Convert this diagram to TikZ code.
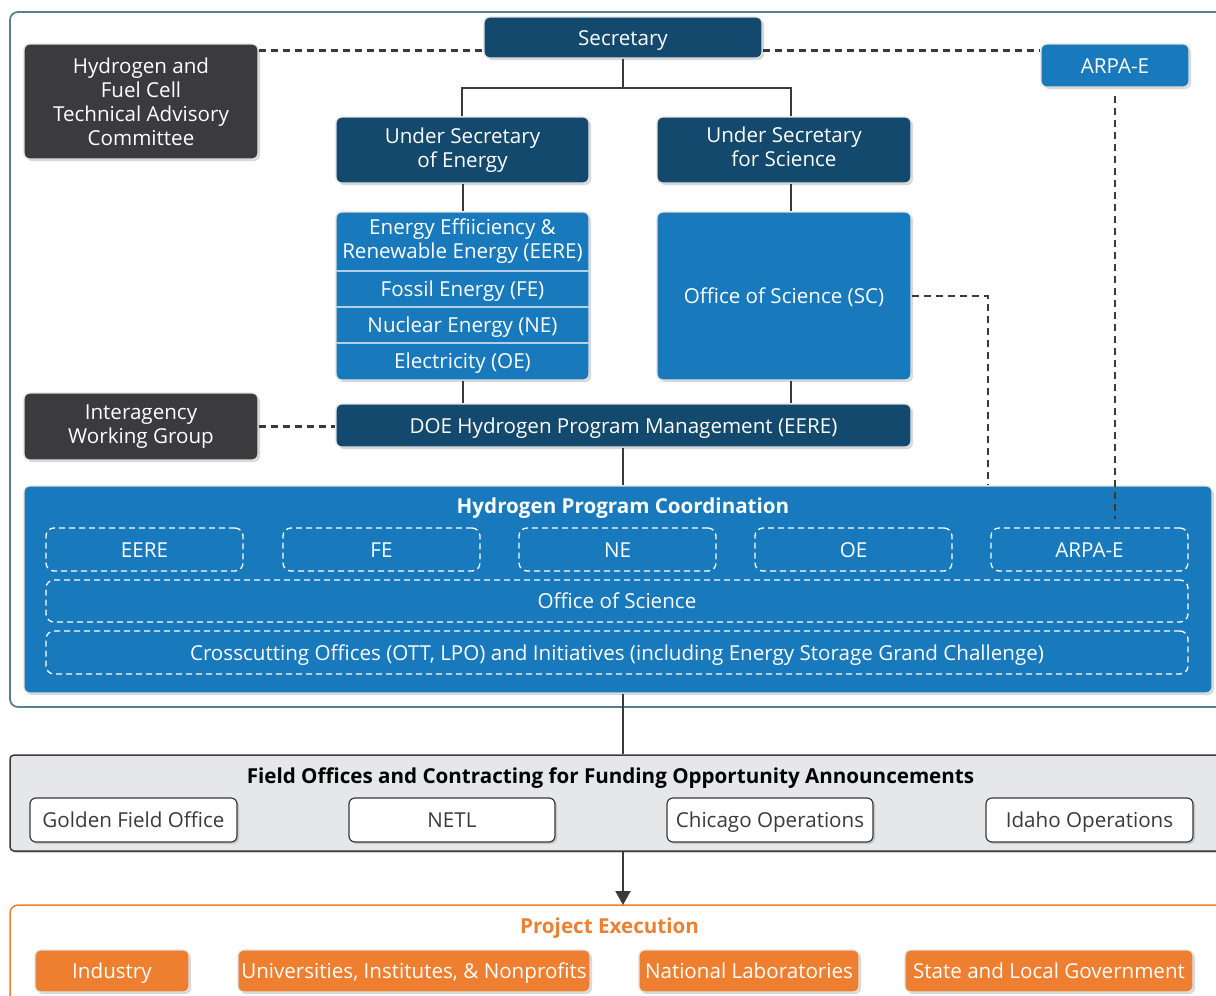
\documentclass[tikz,border=0pt]{standalone}
\usepackage{fontspec}
\setmainfont{Open Sans}
\usetikzlibrary{calc,shadows}
\usetikzlibrary{arrows.meta}
\definecolor{navy}{HTML}{12496D}
\definecolor{midblue}{HTML}{1879BC}
\definecolor{charcoal}{HTML}{3B3B3D}
\definecolor{tangerine}{HTML}{EE7F31}
\definecolor{ink}{HTML}{3A3A3A}
\definecolor{frameblue}{HTML}{5A7E97}
\definecolor{fieldgrey}{HTML}{E6E7E8}
\tikzset{
  card/.style={rounded corners=6pt, draw=black!12, line width=1.2pt, inner sep=0pt,
    align=center, text=white,
    drop shadow={shadow xshift=2pt, shadow yshift=-2pt, opacity=0.3}},
  navycard/.style={card, fill=navy},
  bluecard/.style={card, fill=midblue},
  greycard/.style={card, fill=charcoal},
  orangecard/.style={card, fill=tangerine},
  whitecard/.style={card, fill=white, draw=ink, text=ink},
  dashcard/.style={rounded corners=8pt, draw=white, dash pattern=on 6pt off 4pt,
    line width=1.3pt, inner sep=0pt, text=white},
  oneline/.style={text height=17.5pt, text depth=2pt},
  link/.style={draw=ink, line width=2pt},
  dashlink/.style={draw=ink, line width=2.2pt, dash pattern=on 7pt off 5pt},
}

\begin{document}
\begin{tikzpicture}[x=1pt, y=-1pt, font=\fontsize{20.6}{24}\selectfont]
    \useasboundingbox (0,0) rectangle (1216,996);
    % outer frames
    \draw[frameblue, line width=1.8pt, rounded corners=8pt] (10,12) rectangle (1240,707);
    \node[card, fill=fieldgrey, draw=ink, line width=1.5pt, rounded corners=4pt,
      minimum width=1230, minimum height=96] (field) at (625,803) {};
    \draw[tangerine, line width=1.5pt, rounded corners=8pt] (10,905) rectangle (1240,1020);
    \coordinate (exec) at (623,905);

    % top of the chart
    \node[navycard, oneline, minimum width=278, minimum height=41] (sec) at (623,37.5) {Secretary};
    \node[greycard, minimum width=234, minimum height=115] (hfc) at (141,101.5)
      {Hydrogen and\\Fuel Cell\\Technical Advisory\\Committee};
    \node[bluecard, oneline, minimum width=148, minimum height=43] (arpa) at (1115,65.5) {ARPA-E};
    \node[navycard, minimum width=253, minimum height=66] (use) at (462.5,150)
      {Under Secretary\\of Energy};
    \node[navycard, minimum width=254, minimum height=66] (uss) at (784,150)
      {Under Secretary\\for Science\strut};

    % offices
    \node[bluecard, minimum width=253, minimum height=168] (eere) at (462.5,296) {};
    \draw[white!65!midblue, line width=1.5pt] (336,271) -- (589,271);
    \draw[white!65!midblue, line width=1.5pt] (336,307) -- (589,307);
    \draw[white!65!midblue, line width=1.5pt] (336,343) -- (589,343);
    \node[text=white, align=center] (eere-t) at (462.5,241)
      {Energy Effiiciency \&\\Renewable Energy (EERE)};
    \node[text=white, oneline] (fe-t) at (462.5,289) {Fossil Energy (FE)};
    \node[text=white, oneline] (ne-t) at (462.5,325) {Nuclear Energy (NE)};
    \node[text=white, oneline] (oe-t) at (462.5,361) {Electricity (OE)};
    \node[bluecard, oneline, minimum width=254, minimum height=168] (sc) at (784,296)
      {Office of Science (SC)};
    \node[navycard, oneline, minimum width=575, minimum height=43] (mgmt) at (623.5,425.5)
      {DOE Hydrogen Program Management (EERE)};
    \node[greycard, minimum width=234, minimum height=67] (iwg) at (141,426.5)
      {Interagency\\Working Group};

    % coordination
    \node[bluecard, minimum width=1188, minimum height=207] (coord) at (618,589.5) {};
    \node[text=white, oneline, font=\fontsize{20.6}{24}\selectfont\bfseries] (coord-t) at (623,506)
      {Hydrogen Program Coordination};
    \node[dashcard, oneline, minimum width=197, minimum height=43] (c-eere) at (144.5,549.5) {EERE};
    \node[dashcard, oneline, minimum width=197, minimum height=43] (c-fe) at (381.5,549.5) {FE};
    \node[dashcard, oneline, minimum width=197, minimum height=43] (c-ne) at (617.5,549.5) {NE};
    \node[dashcard, oneline, minimum width=197, minimum height=43] (c-oe) at (853.5,549.5) {OE};
    \node[dashcard, oneline, minimum width=197, minimum height=43] (c-arpa) at (1089.5,549.5) {ARPA-E};
    \node[dashcard, oneline, minimum width=1142, minimum height=42] (c-sc) at (617,601) {Office of Science};
    \node[dashcard, oneline, minimum width=1142, minimum height=43] (c-cross) at (617,652.5)
      {Crosscutting Offices (OTT, LPO) and Initiatives (including Energy Storage Grand Challenge)};

    % field offices
    \node[text=black, oneline, font=\fontsize{20.6}{24}\selectfont\bfseries] (field-t) at (610.5,776)
      {Field Offices and Contracting for Funding Opportunity Announcements};
    \node[whitecard, oneline, minimum width=207, minimum height=44] (gfo) at (133.5,820) {Golden Field Office};
    \node[whitecard, oneline, minimum width=206, minimum height=44] (netl) at (452,820) {NETL};
    \node[whitecard, oneline, minimum width=206, minimum height=44] (chi) at (770,820) {Chicago Operations};
    \node[whitecard, oneline, minimum width=207, minimum height=44] (ida) at (1089.5,820) {Idaho Operations};

    % project execution
    \node[text=tangerine, oneline, font=\fontsize{20.6}{24}\selectfont\bfseries] (exec-t) at (609.5,926)
      {Project Execution};
    \node[orangecard, oneline, minimum width=154, minimum height=42] (ind) at (112,971) {Industry};
    \node[orangecard, oneline, minimum width=352, minimum height=42] (uni) at (414,971)
      {Universities, Institutes, \& Nonprofits};
    \node[orangecard, oneline, minimum width=220, minimum height=42] (lab) at (749,971) {National Laboratories};
    \node[orangecard, oneline, minimum width=288, minimum height=42] (gov) at (1049,971)
      {State and Local Government};

    % draw links
    \coordinate (L) at (462,88);
    \coordinate (R) at (791,88);
    \draw[link] (sec.south) -- (sec.south |- L);
    \draw[link] (L |- use.north) -- (L) -- (R) -- (R |- uss.north);
    \draw[link] (use.south) -- (eere.north);
    \draw[link] (R |- uss.south) -- (R |- sc.north);
    \draw[link] (eere.south) -- (eere.south |- mgmt.north);
    \draw[link] (R |- sc.south) -- (R |- mgmt.north);
    \draw[link] (sec.south |- mgmt.south) -- (sec.south |- coord.north);
    \draw[link] (sec.south |- coord.south) -- (sec.south |- field.north);
    \draw[link, -{Triangle[width=15pt,length=14pt]}] (sec.south |- field.south) -- (exec);
    % dashed links
    \draw[dashlink] ([yshift=-7pt]hfc.north east) -- ([yshift=-7pt]hfc.north east -| sec.west);
    \draw[dashlink] ([yshift=-7pt]arpa.north west -| sec.east) -- ([yshift=-7pt]arpa.north west);
    \draw[dashlink] (iwg.east) -- (iwg.east -| mgmt.west);
    \draw[dashlink] (sc.east) -- ++(76,0) coordinate (K) -- (K |- coord.north);
    \draw[dashlink, shorten <=8pt, shorten >=8pt] (arpa.south) -- (arpa.south |- c-arpa.north);
\end{tikzpicture}
\end{document}
